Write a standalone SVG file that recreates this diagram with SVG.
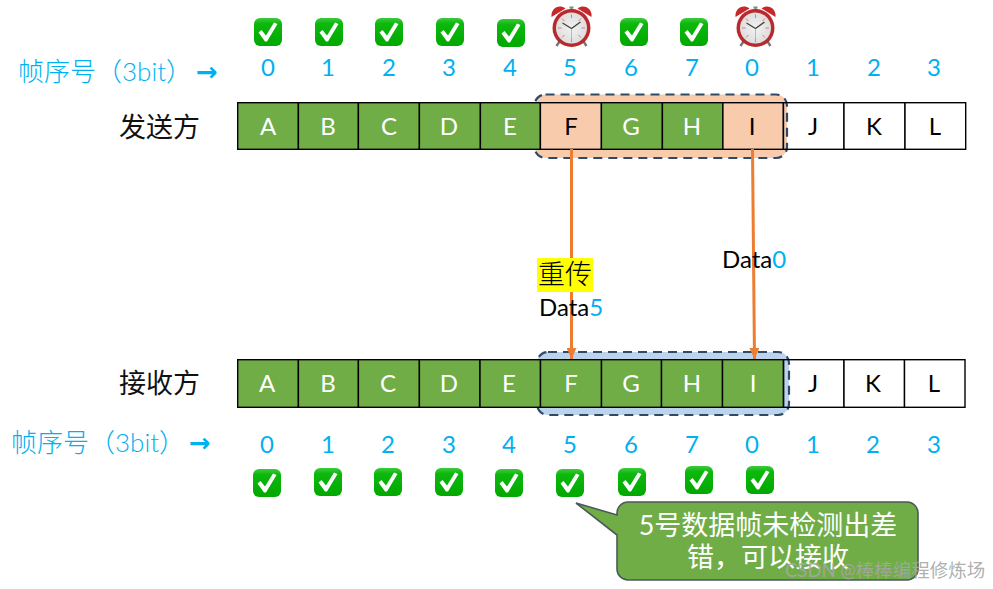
<svg xmlns="http://www.w3.org/2000/svg" xmlns:xlink="http://www.w3.org/1999/xlink" width="993" height="589" viewBox="0 0 993 589">
<style>
text{font-family:"Lato","Noto Sans CJK SC",sans-serif}
.cjk{font-family:"Noto Sans CJK SC",sans-serif}
.g{fill:#70AD47;stroke:#000;stroke-width:1.4}
.o{fill:#F8CBAD;stroke:#000;stroke-width:1.4}
.w{fill:#fff;stroke:#000;stroke-width:1.4}
.lw{fill:#fff;font-size:24px;text-anchor:middle}
.lk{fill:#000;font-size:24px;text-anchor:middle}
.n{fill:#00B0F0;font-size:24px;text-anchor:middle}
.c{font-size:26px;fill:#00B0F0;font-weight:300}
.a{font-family:"DejaVu Sans",sans-serif;font-weight:700;font-size:26px}
.p{font-size:27px;fill:#111}
.win{stroke:#2F4A68;stroke-width:2.2;stroke-dasharray:9 6}
.con{stroke:#ED7D31;stroke-width:3;fill:none;marker-end:url(#ah)}
.d{font-size:24px;fill:#000}
</style>
<defs>
<marker id="ah" markerUnits="userSpaceOnUse" markerWidth="12" markerHeight="10" refX="11" refY="5" orient="auto"><path d="M0 0L11 5L0 10Z" fill="#ED7D31"/></marker>
<linearGradient id="cg" x1="0" y1="0" x2="0" y2="1"><stop offset="0" stop-color="#3CCB3C"/><stop offset=".2" stop-color="#0DB80D"/><stop offset="1" stop-color="#00A800"/></linearGradient>
<radialGradient id="fc" cx=".5" cy=".5" r=".55"><stop offset="0" stop-color="#F2F2F2"/><stop offset="1" stop-color="#DCDCDC"/></radialGradient>
<symbol id="chk" width="28" height="28" viewBox="0 0 28 28" overflow="visible">
<rect x="0" y="0" width="28" height="28" rx="6" fill="url(#cg)"/>
<path d="M4.500 14.500L7.500 12L12 17.500L20 4.500L23.500 6L13 23.500H11Z" fill="#fff"/>
</symbol>
<symbol id="clk" width="42" height="42" viewBox="0 0 42 42" overflow="visible">
<path d="M10 35L6 41M32 35L36 41" stroke="#777" stroke-width="2.4"/>
<path d="M19 2.500H23M21 2.500V6" stroke="#888" stroke-width="2"/>
<path d="M1 12C0 4 8 -1.500 15 3.500Z" fill="#C8282C"/>
<path d="M41 12C42 4 34 -1.500 27 3.500Z" fill="#C8282C"/>
<circle cx="21" cy="23" r="19" fill="#B82A2E"/>
<circle cx="21" cy="23" r="15.500" fill="url(#fc)"/>
<path d="M21 9.500V13M21 33V37M7.500 23H11M31 23H34.500M11.500 13.500L14 16M30.500 13.500L28 16M11.500 32.500L14 30M30.500 32.500L28 30" stroke="#E0787A" stroke-width="1"/>
<path d="M21 23V36" stroke="#D9A070" stroke-width=".8"/>
<path d="M21 23.500L30 17M21 23.500L12 18" stroke="#444" stroke-width="1.4" fill="none"/>
</symbol>
</defs>
<rect width="993" height="589" fill="#fff"/>

<g id="sender-window"><rect class="win" x="534.500" y="94.500" width="252.500" height="63.500" rx="11" fill="#F8CBAD"/></g>
<g id="receiver-window"><rect class="win" x="537" y="352" width="252" height="63" rx="11" fill="#BDD3EC"/></g>

<g id="sender-label"><text class="p" x="119" y="137">发送方</text></g>
<g id="receiver-label"><text class="p" x="119" y="393">接收方</text></g>
<g id="seq-top"><text class="c" x="18" y="81">帧序号（3bit）<tspan class="a" x="196" y="81">→</tspan></text></g>
<g id="seq-bottom"><text class="c" x="11" y="452">帧序号（3bit）<tspan class="a" x="189" y="452">→</tspan></text></g>

<g id="sender-frames">
<g id="s-A"><rect class="g" x="237.700" y="102.700" width="60.700" height="46.600"/><text class="lw" x="268" y="135">A</text></g>
<g id="s-B"><rect class="g" x="298.400" y="102.700" width="60" height="46.600"/><text class="lw" x="328" y="135">B</text></g>
<g id="s-C"><rect class="g" x="358.400" y="102.700" width="61" height="46.600"/><text class="lw" x="389" y="135">C</text></g>
<g id="s-D"><rect class="g" x="419.400" y="102.700" width="61" height="46.600"/><text class="lw" x="449" y="135">D</text></g>
<g id="s-E"><rect class="g" x="480.400" y="102.700" width="60" height="46.600"/><text class="lw" x="510" y="135">E</text></g>
<g id="s-F"><rect class="o" x="540.400" y="102.700" width="61" height="46.600"/><text class="lk" x="571" y="135">F</text></g>
<g id="s-G"><rect class="g" x="601.400" y="102.700" width="61" height="46.600"/><text class="lw" x="631" y="135">G</text></g>
<g id="s-H"><rect class="g" x="662.400" y="102.700" width="60.500" height="46.600"/><text class="lw" x="692" y="135">H</text></g>
<g id="s-I"><rect class="o" x="722.900" y="102.700" width="60.500" height="46.600"/><text class="lk" x="752" y="135">I</text></g>
<g id="s-J"><rect class="w" x="783.400" y="102.700" width="60.600" height="46.600" fill-opacity="0"/><text class="lk" x="813" y="135">J</text></g>
<g id="s-K"><rect class="w" x="844" y="102.700" width="61" height="46.600"/><text class="lk" x="874" y="135">K</text></g>
<g id="s-L"><rect class="w" x="905" y="102.700" width="60.700" height="46.600"/><text class="lk" x="935" y="135">L</text></g>
</g>

<g id="receiver-frames">
<g id="r-A"><rect class="g" x="237.700" y="359.700" width="60.700" height="47.600"/><text class="lw" x="267" y="392">A</text></g>
<g id="r-B"><rect class="g" x="298.400" y="359.700" width="60" height="47.600"/><text class="lw" x="328" y="392">B</text></g>
<g id="r-C"><rect class="g" x="358.400" y="359.700" width="61" height="47.600"/><text class="lw" x="388" y="392">C</text></g>
<g id="r-D"><rect class="g" x="419.400" y="359.700" width="60.600" height="47.600"/><text class="lw" x="449" y="392">D</text></g>
<g id="r-E"><rect class="g" x="480" y="359.700" width="60.500" height="47.600"/><text class="lw" x="509" y="392">E</text></g>
<g id="r-F"><rect class="g" x="540.500" y="359.700" width="61" height="47.600"/><text class="lw" x="571" y="392">F</text></g>
<g id="r-G"><rect class="g" x="601.500" y="359.700" width="60" height="47.600"/><text class="lw" x="631" y="392">G</text></g>
<g id="r-H"><rect class="g" x="661.500" y="359.700" width="61" height="47.600"/><text class="lw" x="692" y="392">H</text></g>
<g id="r-I"><rect class="g" x="722.500" y="359.700" width="61" height="47.600"/><text class="lw" x="753" y="392">I</text></g>
<g id="r-J"><rect class="w" x="783.500" y="359.700" width="60.500" height="47.600" fill-opacity="0"/><text class="lk" x="813" y="392">J</text></g>
<g id="r-K"><rect class="w" x="844" y="359.700" width="60.500" height="47.600"/><text class="lk" x="873" y="392">K</text></g>
<g id="r-L"><rect class="w" x="904.500" y="359.700" width="60.500" height="47.600"/><text class="lk" x="934" y="392">L</text></g>
</g>

<g id="numbers-top">
<text class="n" x="268" y="76">0</text><text class="n" x="328" y="76">1</text><text class="n" x="389" y="76">2</text><text class="n" x="449" y="76">3</text><text class="n" x="510" y="76">4</text><text class="n" x="570" y="76">5</text><text class="n" x="631" y="76">6</text><text class="n" x="692" y="76">7</text><text class="n" x="752" y="76">0</text><text class="n" x="813" y="76">1</text><text class="n" x="874" y="76">2</text><text class="n" x="934" y="76">3</text>
</g>
<g id="numbers-bottom">
<text class="n" x="267" y="453">0</text><text class="n" x="328" y="453">1</text><text class="n" x="388" y="453">2</text><text class="n" x="449" y="453">3</text><text class="n" x="509" y="453">4</text><text class="n" x="570" y="453">5</text><text class="n" x="631" y="453">6</text><text class="n" x="692" y="453">7</text><text class="n" x="752" y="453">0</text><text class="n" x="813" y="453">1</text><text class="n" x="873" y="453">2</text><text class="n" x="934" y="453">3</text>
</g>

<g id="status-top">
<use href="#chk" x="254" y="18"/><use href="#chk" x="315" y="18"/><use href="#chk" x="375" y="18"/><use href="#chk" x="436" y="18"/><use href="#chk" x="497" y="19"/>
<use href="#clk" x="550.500" y="5"/>
<use href="#chk" x="620" y="18"/><use href="#chk" x="680" y="18"/>
<use href="#clk" x="734.500" y="5"/>
</g>
<g id="status-bottom">
<use href="#chk" x="253" y="469"/><use href="#chk" x="314" y="468"/><use href="#chk" x="374" y="468"/><use href="#chk" x="435" y="468"/><use href="#chk" x="495" y="469"/><use href="#chk" x="556" y="469"/><use href="#chk" x="618" y="468"/><use href="#chk" x="685" y="466"/><use href="#chk" x="746" y="466"/>
</g>

<g id="connectors">
<path class="con" d="M571.500 149V359"/>
<path class="con" d="M752.500 149L754.500 359"/>
</g>

<g id="resend-label"><rect x="537" y="258" width="56" height="34" fill="#FFFF00"/><text class="cjk" x="538" y="284" font-size="27" font-weight="300" fill="#000">重传</text></g>
<g id="data5-label"><text class="d" x="539" y="316">Data<tspan fill="#00B0F0">5</tspan></text></g>
<g id="data0-label"><text class="d" x="722" y="268">Data<tspan fill="#00B0F0">0</tspan></text></g>

<g id="callout">
<path d="M628 502H907A11 11 0 0 1 918 513V569A11 11 0 0 1 907 580H628A11 11 0 0 1 617 569V535L576 503L617 515V513A11 11 0 0 1 628 502Z" fill="#70AD47" stroke="#4A5A58" stroke-width="1.6"/>
<text x="768" y="535" font-size="27" fill="#fff" text-anchor="middle">5号数据帧未检测出差</text>
<text x="768" y="567" font-size="27" fill="#fff" text-anchor="middle">错，可以接收</text>
</g>
<g id="watermark"><text x="785" y="577" font-size="18.500" fill="#a6a6a6" fill-opacity=".9">CSDN @棒棒编程修炼场</text></g>
</svg>
